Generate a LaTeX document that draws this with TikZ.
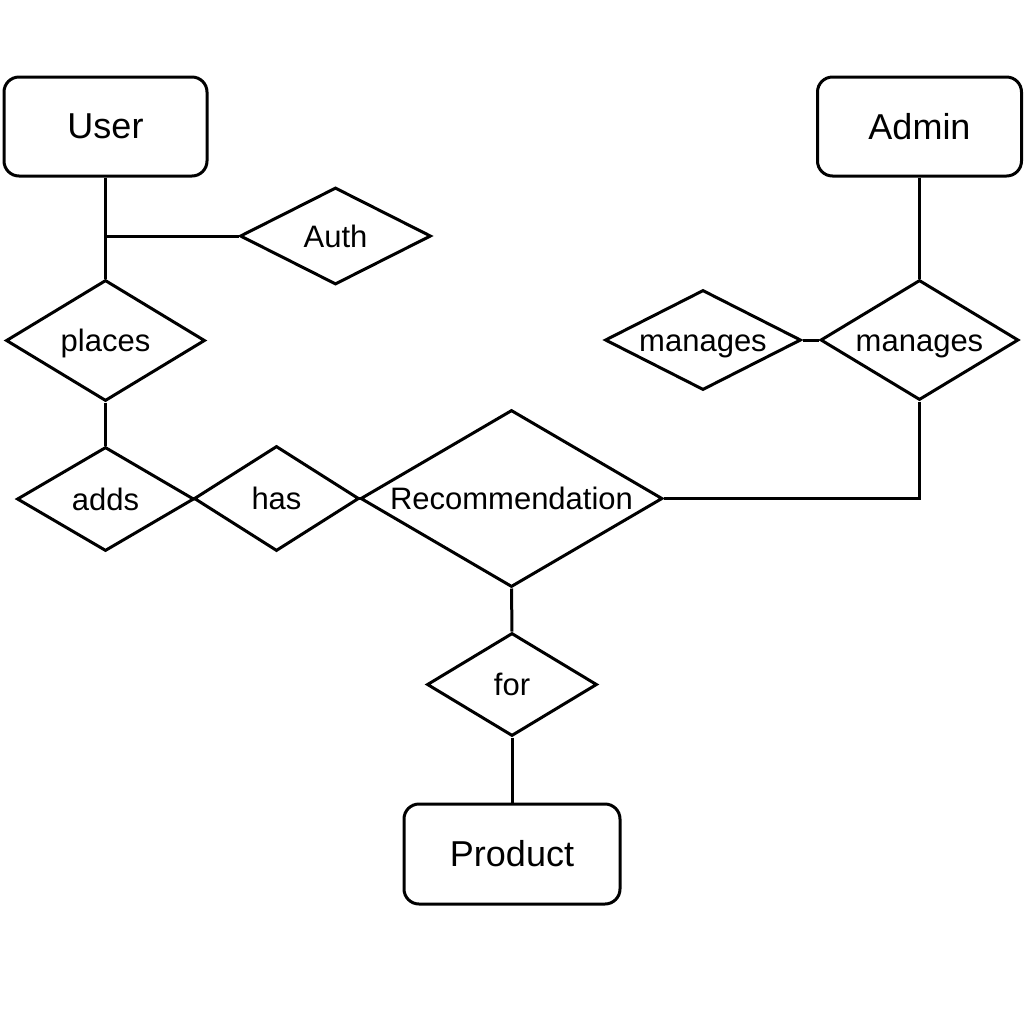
\documentclass[tikz,border=0pt]{standalone}
\usepackage{fontspec}
\setmainfont{Liberation Sans}
\usetikzlibrary{shapes.geometric}
\tikzset{
  ent/.style={draw, rounded corners=7.5pt, line width=1.5pt, inner sep=0pt, font=\fontsize{18}{20}\selectfont},
  rel/.style={draw, diamond, line width=1.5pt, inner sep=0pt},
  lbl/.style={font=\fontsize{15.5}{18}\selectfont, inner sep=0pt, text height=0.7em, text depth=0pt, yshift=-2pt},
  conn/.style={line width=1.5pt}
}
\begin{document}
\begin{tikzpicture}[x=0.5pt,y=-0.5pt]
\useasboundingbox (0,0) rectangle (1024,1024);
\node[ent, minimum width=101.5pt, minimum height=49.5pt] (user) at (105.5,126.5) {User};
\node[ent, minimum width=102pt, minimum height=49.5pt] (admin) at (919.5,126.5) {Admin};
\node[ent, minimum width=108pt, minimum height=50pt] (product) at (512,854) {Product};
\node[rel, minimum width=95.5pt, minimum height=48.5pt, label={[lbl]center:Auth}] (auth) at (335.5,236) {};
\node[rel, minimum width=99.5pt, minimum height=60.5pt, label={[lbl]center:places}] (places) at (105.5,340.5) {};
\node[rel, minimum width=88.5pt, minimum height=52pt, label={[lbl]center:adds}] (adds) at (105.5,499) {};
\node[rel, minimum width=82.5pt, minimum height=52.5pt, label={[lbl]center:has}] (has) at (276.5,498.5) {};
\node[rel, minimum width=151pt, minimum height=88.5pt, label={[lbl]center:Recommendation}] (rec) at (511.5,498.5) {};
\node[rel, minimum width=85pt, minimum height=51.5pt, label={[lbl]center:for}] (for) at (512,684.5) {};
\node[rel, minimum width=98pt, minimum height=50pt, label={[lbl]center:manages}] (man1) at (703,340) {};
\node[rel, minimum width=99pt, minimum height=60pt, label={[lbl]center:manages}] (man2) at (919.5,340) {};
\coordinate (j1) at (105.5,236);
\coordinate (j2) at (919.5,498.5);
\draw[conn] (user.south) -- (places.north);
\draw[conn] (j1) -- (auth.west);
\draw[conn] (places.south) -- (adds.north);
\draw[conn] (adds.east) -- (has.west);
\draw[conn] (has.east) -- (rec.west);
\draw[conn] (rec.south) -- (for.north);
\draw[conn] (for.south) -- (product.north);
\draw[conn] (admin.south) -- (man2.north);
\draw[conn] (man1.east) -- (man2.west);
\draw[conn] (man2.south) -- (j2) -- (rec.east);
\end{tikzpicture}
\end{document}
